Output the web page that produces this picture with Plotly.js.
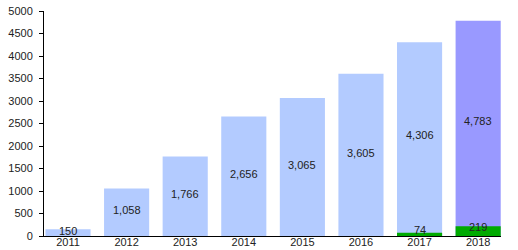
<!DOCTYPE html>
<html><head><meta charset="utf-8">
<script src="https://cdn.plot.ly/plotly-3.0.1.min.js"></script>
<style>html,body{margin:0;padding:0;background:#fff}</style>
</head><body><div id="chart" style="width:518px;height:250px"></div>
<script>
const years = ['2011','2012','2013','2014','2015','2016','2017','2018'];
const totals = [150, 1058, 1766, 2656, 3065, 3605, 4306, 4783];
const green = [0, 0, 0, 0, 0, 0, 74, 219];
const totalColors = ['#b3cbff','#b3cbff','#b3cbff','#b3cbff','#b3cbff','#b3cbff','#b3cbff','#9999ff'];
const yTicks = [0,500,1000,1500,2000,2500,3000,3500,4000,4500,5000];

const fmt = v => v.toLocaleString('en-US');
const idx = years.map((_, i) => i);

const traces = [
  {type:'bar', x: idx, y: totals, marker:{color: totalColors}, width:0.77, hoverinfo:'none'},
  {type:'bar', x: idx.filter(i => green[i] > 0), y: green.filter(v => v > 0), marker:{color:'#00aa00'}, width:0.77, hoverinfo:'none'}
];

const annotations = [];
totals.forEach((v, i) => {
  annotations.push({x: i, y: (v + green[i]) / 2, xref:'x', yref:'y', text: fmt(v), showarrow:false, yshift:2,
    font:{family:'Liberation Sans, Arial, sans-serif', size:11, color:'#222'}});
});
green.forEach((v, i) => {
  if (v > 0) annotations.push({x: i, y: v / 2, xref:'x', yref:'y', text: fmt(v), showarrow:false, yshift:4,
    font:{family:'Liberation Sans, Arial, sans-serif', size:11, color:'#222'}});
});

const layout = {
  width:518, height:250,
  margin:{l:44, r:17, t:11, b:14, pad:0},
  barmode:'overlay',
  showlegend:false,
  paper_bgcolor:'#fff', plot_bgcolor:'#fff',
  font:{family:'Liberation Sans, Arial, sans-serif', size:11, color:'#222'},
  xaxis:{range:[-0.41, 7.39], tickmode:'array', tickvals: idx, ticktext: years, showgrid:false, zeroline:false,
    showline:true, linecolor:'#000', linewidth:1, ticks:'', ticklabelstandoff:-4, automargin:false, fixedrange:true},
  yaxis:{range:[0,5000], tickmode:'array', tickvals: yTicks, ticktext: yTicks.map(String), showgrid:false, zeroline:false,
    showline:true, linecolor:'#000', linewidth:1, ticks:'outside', ticklen:4, tickcolor:'#000', ticklabelstandoff:4, automargin:false, fixedrange:true},
  annotations: annotations
};
Plotly.newPlot('chart', traces, layout, {staticPlot:true, displayModeBar:false});
</script></body></html>
